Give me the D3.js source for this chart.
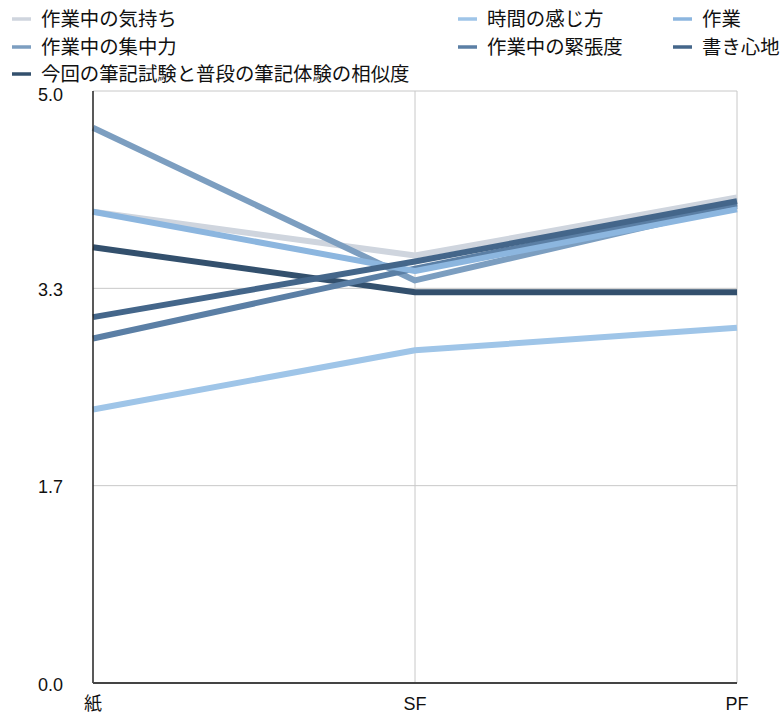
<!DOCTYPE html>
<html>
<head>
<meta charset="utf-8">
<script src="https://cdn.jsdelivr.net/npm/d3@7/dist/d3.min.js"></script>
<style>
  html, body { margin: 0; padding: 0; background: #fff; }
  svg { display: block; font-family: "Liberation Sans", "Noto Sans CJK JP", sans-serif; }
</style>
</head>
<body>
<svg id="chart" width="782" height="715"></svg>
<script>
// Categories along the x axis
const categories = ["紙", "SF", "PF"];

// Series names and values (one value per category)
const seriesNames = [
  "作業中の気持ち",
  "作業中の集中力",
  "今回の筆記試験と普段の筆記体験の相似度",
  "時間の感じ方",
  "作業中の緊張度",
  "作業",
  "書き心地"
];
const kimochi   = [3.98, 3.61, 4.10];
const shuchu    = [4.69, 3.40, 4.03];
const sojido    = [3.68, 3.30, 3.30];
const jikan     = [2.31, 2.81, 3.00];
const kinchodo  = [2.91, 3.50, 4.05];
const sagyo     = [3.98, 3.48, 4.00];
const kakigokochi = [3.09, 3.56, 4.07];
const seriesValues = [kimochi, shuchu, sojido, jikan, kinchodo, sagyo, kakigokochi];

const seriesColors = [
  "#cfd5de", "#7c9ec0", "#33506d", "#9fc5e8", "#5b7fa5", "#8cb6df", "#44668a"
];

// Y axis tick values and their labels
const yTicks = [0, 5 / 3, 10 / 3, 5];
const yTickLabels = ["0.0", "1.7", "3.3", "5.0"];

const svg = d3.select("#chart");
const plotLeft = 93, plotRight = 737, plotTop = 91, plotBottom = 683;

const x = d3.scalePoint().domain(categories).range([plotLeft, plotRight]);
const y = d3.scaleLinear().domain([0, 5]).range([plotBottom, plotTop]);

// Horizontal grid
svg.append("g")
  .selectAll("line")
  .data(yTicks.filter(v => v > 0))
  .join("line")
  .attr("x1", plotLeft).attr("x2", plotRight)
  .attr("y1", d => y(d)).attr("y2", d => y(d))
  .attr("stroke", "#c8c8c8").attr("stroke-width", 1);

// Vertical grid
svg.append("g")
  .selectAll("line")
  .data(categories.slice(1))
  .join("line")
  .attr("x1", d => x(d)).attr("x2", d => x(d))
  .attr("y1", plotTop).attr("y2", plotBottom)
  .attr("stroke", "#c8c8c8").attr("stroke-width", 1);

// Series lines
const line = d3.line().x((d, i) => x(categories[i])).y(d => y(d));
svg.append("g")
  .selectAll("path")
  .data(seriesValues)
  .join("path")
  .attr("d", d => line(d))
  .attr("fill", "none")
  .attr("stroke", (d, i) => seriesColors[i])
  .attr("stroke-width", 6)
  .attr("stroke-linejoin", "round");

// Axis lines
svg.append("line")
  .attr("x1", plotLeft).attr("x2", plotLeft).attr("y1", plotTop).attr("y2", plotBottom)
  .attr("stroke", "#222").attr("stroke-width", 1.5);
svg.append("line")
  .attr("x1", plotLeft).attr("x2", plotRight).attr("y1", plotBottom).attr("y2", plotBottom)
  .attr("stroke", "#444").attr("stroke-width", 2);

// Y tick labels
svg.append("g")
  .selectAll("text")
  .data(yTicks)
  .join("text")
  .attr("x", 63)
  .attr("y", d => y(d))
  .attr("dy", d => d === 5 ? "0.55em" : "0.42em")
  .attr("text-anchor", "end")
  .attr("font-size", 18)
  .attr("fill", "#111")
  .text((d, i) => yTickLabels[i]);

// X tick labels
svg.append("g")
  .selectAll("text")
  .data(categories)
  .join("text")
  .attr("x", d => x(d))
  .attr("y", 710)
  .attr("text-anchor", "middle")
  .attr("font-size", 18)
  .attr("fill", "#111")
  .text(d => d);

// Legend: three columns
const legendPos = [
  [12, 19], [12, 47], [12, 74],
  [458, 19], [458, 47],
  [673, 19], [673, 47]
];
const legend = svg.append("g")
  .selectAll("g")
  .data(seriesNames)
  .join("g")
  .attr("transform", (d, i) => `translate(${legendPos[i][0]},${legendPos[i][1]})`);
legend.append("line")
  .attr("x1", 0).attr("x2", 19).attr("y1", 0).attr("y2", 0)
  .attr("stroke", (d, i) => seriesColors[i])
  .attr("stroke-width", 3.5);
legend.append("text")
  .attr("x", 29)
  .attr("y", 0)
  .attr("dy", "0.36em")
  .attr("font-size", 19.4)
  .attr("fill", "#111")
  .style("font-family", "'Noto Sans CJK JP', sans-serif")
  .text(d => d);
</script>
</body>
</html>
